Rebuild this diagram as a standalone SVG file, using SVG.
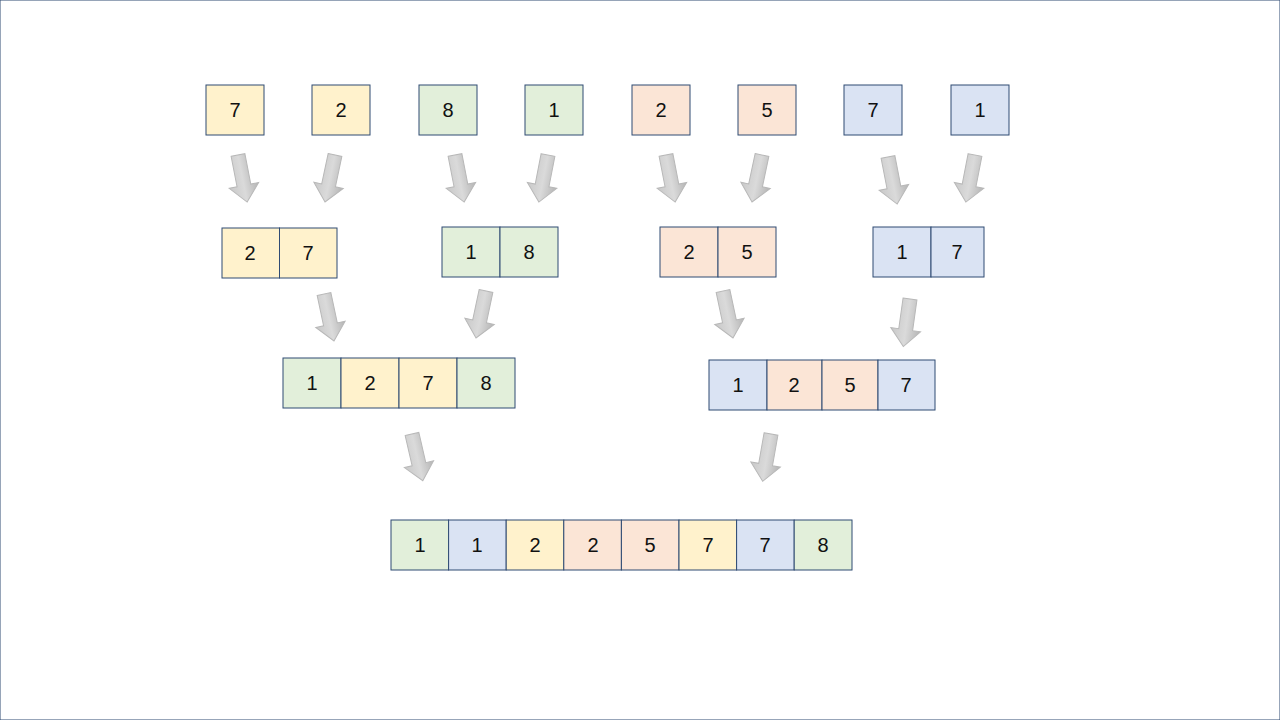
<svg xmlns="http://www.w3.org/2000/svg" width="1280" height="720" viewBox="0 0 1280 720">
<style>
.y{fill:#FFF2CC}.g{fill:#E2EFDA}.p{fill:#FBE5D6}.b{fill:#DAE3F3}
rect{stroke:#2F4B73;stroke-width:1}
text{font-family:"Liberation Sans",Arial,sans-serif;font-size:20px;fill:#111;text-anchor:middle;dominant-baseline:central}
.a{fill:url(#gr);stroke:#B8B8B8;stroke-width:1}
</style>
<defs>
<linearGradient id="gr" x1="0" y1="0" x2="1" y2="0"><stop offset="0" stop-color="#C8C8C8"/><stop offset="0.5" stop-color="#DADADA"/><stop offset="1" stop-color="#B4B4B4"/></linearGradient>
<path id="ar" d="M-7,0 L7,0 L7,31 L15,31 L0,48 L-15,31 L-7,31 Z"/>
</defs>
<rect width="1280" height="720" fill="#fff" stroke="none"/>
<g id="connectors">
<use href="#ar" class="a" transform="translate(238,155) rotate(-11)"/>
<use href="#ar" class="a" transform="translate(335,155) rotate(12)"/>
<use href="#ar" class="a" transform="translate(455,155) rotate(-11)"/>
<use href="#ar" class="a" transform="translate(548,155) rotate(11)"/>
<use href="#ar" class="a" transform="translate(666,155) rotate(-11)"/>
<use href="#ar" class="a" transform="translate(762,155) rotate(12)"/>
<use href="#ar" class="a" transform="translate(888,157) rotate(-11)"/>
<use href="#ar" class="a" transform="translate(975,155) rotate(11)"/>
<use href="#ar" class="a" transform="translate(324,294) rotate(-12)"/>
<use href="#ar" class="a" transform="translate(486,291) rotate(12)"/>
<use href="#ar" class="a" transform="translate(723,291) rotate(-12)"/>
<use href="#ar" class="a" transform="translate(910,299) rotate(8)"/>
<use href="#ar" class="a" transform="translate(412,434) rotate(-13)"/>
<use href="#ar" class="a" transform="translate(771,434) rotate(10)"/>
</g>
<g id="n1"><rect class="y" x="206" y="85" width="58" height="50"/><text x="235" y="110">7</text></g>
<g id="n2"><rect class="y" x="312" y="85" width="58" height="50"/><text x="341" y="110">2</text></g>
<g id="n3"><rect class="g" x="419" y="85" width="58" height="50"/><text x="448" y="110">8</text></g>
<g id="n4"><rect class="g" x="525" y="85" width="58" height="50"/><text x="554" y="110">1</text></g>
<g id="n5"><rect class="p" x="632" y="85" width="58" height="50"/><text x="661" y="110">2</text></g>
<g id="n6"><rect class="p" x="738" y="85" width="58" height="50"/><text x="767" y="110">5</text></g>
<g id="n7"><rect class="b" x="844" y="85" width="58" height="50"/><text x="873" y="110">7</text></g>
<g id="n8"><rect class="b" x="951" y="85" width="58" height="50"/><text x="980" y="110">1</text></g>
<g id="m1"><rect class="y" x="222" y="228" width="57.5" height="50"/><rect class="y" x="279.5" y="228" width="57.5" height="50"/><text x="250" y="253">2</text><text x="308" y="253">7</text></g>
<g id="m2"><rect class="g" x="442" y="227" width="58" height="50"/><rect class="g" x="500" y="227" width="58" height="50"/><text x="471" y="252">1</text><text x="529" y="252">8</text></g>
<g id="m3"><rect class="p" x="660" y="227" width="58" height="50"/><rect class="p" x="718" y="227" width="58" height="50"/><text x="689" y="252">2</text><text x="747" y="252">5</text></g>
<g id="m4"><rect class="b" x="873" y="227" width="58" height="50"/><rect class="b" x="931" y="227" width="53" height="50"/><text x="902" y="252">1</text><text x="957" y="252">7</text></g>
<g id="q1"><rect class="g" x="283" y="358" width="58" height="50"/><rect class="y" x="341" y="358" width="58" height="50"/><rect class="y" x="399" y="358" width="58" height="50"/><rect class="g" x="457" y="358" width="58" height="50"/><text x="312" y="383">1</text><text x="370" y="383">2</text><text x="428" y="383">7</text><text x="486" y="383">8</text></g>
<g id="q2"><rect class="b" x="709" y="360" width="58" height="50"/><rect class="p" x="767" y="360" width="55" height="50"/><rect class="p" x="822" y="360" width="56" height="50"/><rect class="b" x="878" y="360" width="57" height="50"/><text x="738" y="385">1</text><text x="794" y="385">2</text><text x="850" y="385">5</text><text x="906" y="385">7</text></g>
<g id="f"><rect class="g" x="391" y="520" width="57.6" height="50"/><rect class="b" x="448.6" y="520" width="57.6" height="50"/><rect class="y" x="506.2" y="520" width="57.6" height="50"/><rect class="p" x="563.8" y="520" width="57.6" height="50"/><rect class="p" x="621.4" y="520" width="57.6" height="50"/><rect class="y" x="679" y="520" width="57.6" height="50"/><rect class="b" x="736.6" y="520" width="57.6" height="50"/><rect class="g" x="794.2" y="520" width="57.8" height="50"/>
<text x="420" y="545">1</text><text x="477" y="545">1</text><text x="535" y="545">2</text><text x="593" y="545">2</text><text x="650" y="545">5</text><text x="708" y="545">7</text><text x="765" y="545">7</text><text x="823" y="545">8</text></g>
</svg>
